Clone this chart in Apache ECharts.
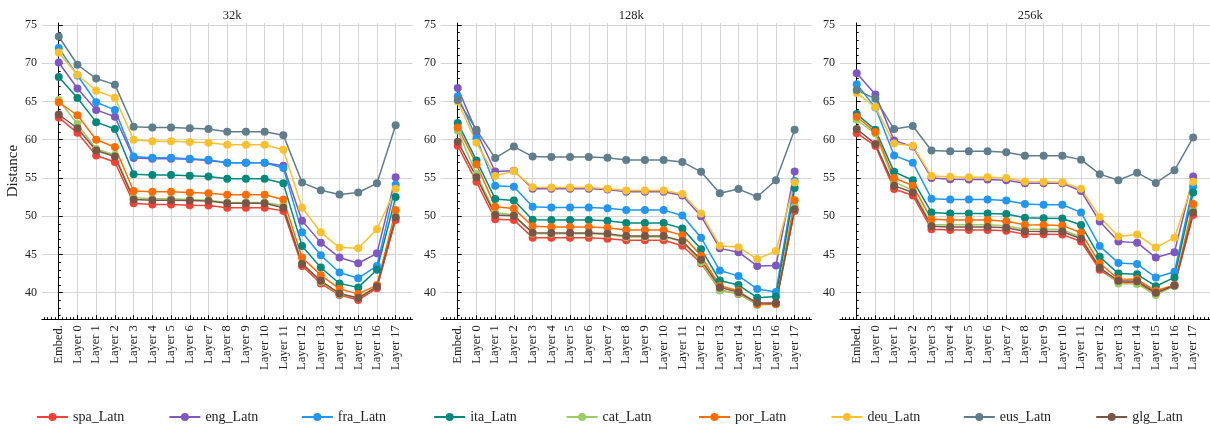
<!DOCTYPE html>
<html>
<head>
<meta charset="utf-8">
<script src="https://cdn.jsdelivr.net/npm/echarts@6/dist/echarts.min.js"></script>
<style>
  html, body { margin: 0; padding: 0; background: #fff; }
  #chart { width: 1210px; height: 430px; }
</style>
</head>
<body>
<div id="chart"></div>
<script>
  const categories = ['Embed.', 'Layer 0', 'Layer 1', 'Layer 2', 'Layer 3', 'Layer 4', 'Layer 5', 'Layer 6',
    'Layer 7', 'Layer 8', 'Layer 9', 'Layer 10', 'Layer 11', 'Layer 12', 'Layer 13', 'Layer 14',
    'Layer 15', 'Layer 16', 'Layer 17'];
  const yTicks = [40, 45, 50, 55, 60, 65, 70, 75];
  const panelTitles = ['32k', '128k', '256k'];
  const languages = ['spa_Latn', 'eng_Latn', 'fra_Latn', 'ita_Latn', 'cat_Latn', 'por_Latn', 'deu_Latn', 'eus_Latn', 'glg_Latn'];

  // 32k
  const spa_32k = [62.9, 60.9, 57.95, 57.1, 51.7, 51.55, 51.55, 51.45, 51.4, 51.1, 51.1, 51.1, 50.7, 43.5, 41.2, 39.7, 39.05, 40.6, 49.5];
  const eng_32k = [70.1, 66.7, 63.9, 63.0, 57.6, 57.5, 57.5, 57.45, 57.3, 57.0, 57.0, 57.0, 56.6, 49.4, 46.55, 44.6, 43.85, 45.15, 55.1];
  const fra_32k = [72.0, 68.4, 64.9, 63.9, 57.8, 57.65, 57.65, 57.5, 57.4, 57.0, 57.0, 57.0, 56.3, 47.9, 44.9, 42.65, 41.9, 43.5, 54.1];
  const ita_32k = [68.2, 65.45, 62.3, 61.4, 55.5, 55.4, 55.4, 55.3, 55.2, 54.9, 54.9, 54.9, 54.3, 46.1, 43.3, 41.2, 40.7, 43.0, 52.5];
  const cat_32k = [65.2, 62.05, 58.8, 58.0, 52.4, 52.3, 52.3, 52.2, 52.1, 51.8, 51.8, 51.8, 51.4, 43.9, 41.45, 39.8, 39.3, 40.9, 50.0];
  const por_32k = [64.9, 63.2, 60.0, 59.05, 53.3, 53.2, 53.2, 53.1, 53.0, 52.8, 52.8, 52.8, 52.2, 44.6, 42.3, 40.5, 39.85, 41.0, 50.8];
  const deu_32k = [71.4, 68.5, 66.4, 65.5, 60.0, 59.8, 59.8, 59.7, 59.6, 59.35, 59.35, 59.35, 58.7, 51.1, 47.9, 45.9, 45.8, 48.3, 53.6];
  const eus_32k = [73.5, 69.8, 68.0, 67.2, 61.7, 61.6, 61.6, 61.5, 61.4, 61.05, 61.05, 61.05, 60.6, 54.4, 53.4, 52.85, 53.1, 54.3, 61.9];
  const glg_32k = [63.3, 61.5, 58.6, 57.8, 52.2, 52.1, 52.1, 52.05, 52.0, 51.7, 51.7, 51.7, 51.1, 43.75, 41.55, 39.9, 39.3, 40.8, 49.85];

  // 128k
  const spa_128k = [59.2, 54.5, 49.6, 49.5, 47.2, 47.2, 47.2, 47.2, 47.05, 46.85, 46.85, 46.85, 46.15, 43.85, 40.35, 39.85, 38.5, 38.6, 50.7];
  const eng_128k = [66.75, 61.05, 55.85, 55.95, 53.6, 53.6, 53.6, 53.6, 53.5, 53.2, 53.2, 53.2, 52.7, 50.0, 45.8, 45.3, 43.5, 43.55, 55.85];
  const fra_128k = [65.7, 60.2, 54.0, 53.85, 51.25, 51.15, 51.15, 51.15, 51.05, 50.8, 50.8, 50.8, 50.1, 47.2, 42.9, 42.2, 40.5, 40.1, 54.6];
  const ita_128k = [62.2, 57.3, 52.25, 52.05, 49.55, 49.5, 49.5, 49.5, 49.4, 49.1, 49.1, 49.1, 48.4, 45.7, 41.6, 41.0, 39.35, 39.5, 53.7];
  const cat_128k = [61.2, 55.5, 50.45, 50.2, 47.75, 47.7, 47.7, 47.7, 47.6, 47.3, 47.3, 47.3, 46.7, 44.0, 40.3, 39.9, 38.4, 38.5, 51.3];
  const por_128k = [61.6, 56.8, 51.25, 51.0, 48.7, 48.6, 48.6, 48.6, 48.5, 48.2, 48.2, 48.2, 47.5, 44.85, 40.9, 40.25, 38.5, 38.5, 52.1];
  const deu_128k = [65.0, 59.6, 55.25, 55.9, 53.8, 53.75, 53.75, 53.75, 53.6, 53.35, 53.35, 53.35, 52.9, 50.35, 46.15, 45.95, 44.4, 45.45, 54.4];
  const eus_128k = [65.2, 61.3, 57.6, 59.1, 57.8, 57.75, 57.75, 57.75, 57.65, 57.35, 57.35, 57.35, 57.1, 55.8, 53.0, 53.55, 52.55, 54.7, 61.3];
  const glg_128k = [59.75, 55.1, 50.15, 50.05, 47.85, 47.8, 47.8, 47.8, 47.7, 47.4, 47.4, 47.4, 46.75, 44.3, 40.7, 40.05, 38.7, 38.65, 50.9];

  // 256k
  const spa_256k = [60.85, 59.2, 53.55, 52.7, 48.3, 48.2, 48.2, 48.2, 48.1, 47.65, 47.65, 47.6, 46.7, 43.0, 41.4, 41.3, 39.9, 40.9, 50.15];
  const eng_256k = [68.7, 65.9, 59.9, 59.1, 55.0, 54.85, 54.8, 54.8, 54.7, 54.3, 54.3, 54.3, 53.3, 49.3, 46.7, 46.55, 44.6, 45.3, 55.2];
  const fra_256k = [67.25, 64.2, 57.95, 57.0, 52.3, 52.2, 52.2, 52.2, 52.05, 51.6, 51.5, 51.5, 50.5, 46.1, 43.9, 43.75, 42.0, 42.75, 53.9];
  const ita_256k = [63.35, 61.3, 55.8, 54.7, 50.5, 50.35, 50.35, 50.35, 50.3, 49.8, 49.75, 49.7, 48.85, 44.7, 42.5, 42.4, 40.85, 42.0, 53.1];
  const cat_256k = [62.6, 60.8, 54.5, 53.4, 48.9, 48.9, 48.9, 48.9, 48.75, 48.3, 48.3, 48.25, 47.3, 43.35, 41.2, 41.15, 39.7, 40.9, 50.9];
  const por_256k = [63.0, 61.0, 55.0, 54.0, 49.6, 49.5, 49.5, 49.5, 49.35, 48.9, 48.85, 48.8, 47.85, 43.85, 41.8, 41.75, 40.25, 41.0, 51.6];
  const deu_256k = [66.1, 64.25, 59.5, 59.2, 55.25, 55.15, 55.1, 55.1, 55.0, 54.55, 54.5, 54.45, 53.6, 49.9, 47.35, 47.6, 45.9, 47.2, 54.5];
  const eus_256k = [66.5, 65.35, 61.4, 61.8, 58.6, 58.5, 58.5, 58.5, 58.35, 57.9, 57.9, 57.9, 57.4, 55.5, 54.7, 55.7, 54.35, 56.0, 60.3];
  const glg_256k = [61.4, 59.45, 54.0, 53.1, 48.7, 48.6, 48.6, 48.6, 48.5, 48.05, 48.0, 48.0, 47.05, 43.25, 41.55, 41.5, 40.0, 40.95, 50.5];

  const panelData = [
    [spa_32k, eng_32k, fra_32k, ita_32k, cat_32k, por_32k, deu_32k, eus_32k, glg_32k],
    [spa_128k, eng_128k, fra_128k, ita_128k, cat_128k, por_128k, deu_128k, eus_128k, glg_128k],
    [spa_256k, eng_256k, fra_256k, ita_256k, cat_256k, por_256k, deu_256k, eus_256k, glg_256k]
  ];

  const colors = ['#F44336', '#7E57C2', '#2196F3', '#00897B', '#9CCC65', '#FF6D00', '#FBC02D', '#607D8B', '#795548'];
  const serif = '"Liberation Serif", "DejaVu Serif", serif';

  const gridLefts = [41.9, 440.9, 839.9];
  const plotW = 370.6, plotTop = 23, plotH = 296.2;
  const xMin = -0.9, xMax = 18.9, yMin = 36.54, yMax = 75.26;

  const catIdx = categories.map((c, i) => i);
  const xMinor = [];
  for (let v = -0.8; v < 18.85; v += 0.2) xMinor.push(+v.toFixed(1));
  const yMinor = [];
  for (let v = 37; v <= 75; v++) if (v % 5 !== 0) yMinor.push(v);

  const option = {
    animation: false,
    color: colors,
    title: [],
    grid: [],
    xAxis: [],
    yAxis: [],
    series: [],
    // one legend per item so the spacing is even, like the original
    legend: languages.map((name, k) => ({
      data: [name],
      left: 31 + k * 132.4,
      top: 405,
      itemWidth: 31,
      itemHeight: 10,
      textStyle: { fontFamily: serif, fontSize: 14, color: '#222' }
    }))
  };

  panelTitles.forEach((t, p) => {
    option.title.push({
      text: t,
      left: gridLefts[p] + plotW / 2,
      top: 4,
      textAlign: 'center',
      textStyle: { fontFamily: serif, fontSize: 12.5, fontWeight: 'normal', color: '#222' }
    });
    option.grid.push({ left: gridLefts[p], top: plotTop, width: plotW, height: plotH });

    // main x axis: categories placed on index positions
    option.xAxis.push({
      type: 'value', gridIndex: p, min: xMin, max: xMax,
      axisLine: { show: true, lineStyle: { color: '#000', width: 1 } },
      axisTick: { show: true, inside: true, length: 4, customValues: catIdx, lineStyle: { color: '#000' } },
      axisLabel: {
        customValues: catIdx, rotate: 90, margin: 6,
        fontFamily: serif, fontSize: 12.5, color: '#222',
        formatter: v => categories[Math.round(v)]
      },
      splitLine: { show: true, lineStyle: { color: '#d4d4d4', width: 1 } }
    });
    // minor ticks along the bottom
    option.xAxis.push({
      type: 'value', gridIndex: p, min: xMin, max: xMax, position: 'bottom',
      axisLine: { show: false },
      axisTick: { show: true, inside: true, length: 2, customValues: xMinor, lineStyle: { color: '#000' } },
      axisLabel: { show: false },
      splitLine: { show: false }
    });

    option.yAxis.push({
      type: 'value', gridIndex: p, min: yMin, max: yMax, position: 'left',
      name: p === 0 ? 'Distance' : '',
      nameLocation: 'middle', nameGap: 19,
      nameTextStyle: { fontFamily: serif, fontSize: 15, color: '#222' },
      axisLine: { show: true, lineStyle: { color: '#000', width: 1 } },
      axisTick: { show: true, inside: true, length: 4, customValues: yTicks, lineStyle: { color: '#000' } },
      axisLabel: { customValues: yTicks, margin: 5, fontFamily: serif, fontSize: 12, color: '#222' },
      splitLine: { show: true, lineStyle: { color: '#d4d4d4', width: 1 } }
    });
    option.yAxis.push({
      type: 'value', gridIndex: p, min: yMin, max: yMax, position: 'left', offset: 0,
      axisLine: { show: false },
      axisTick: { show: true, inside: true, length: 2, customValues: yMinor, lineStyle: { color: '#000' } },
      axisLabel: { show: false },
      splitLine: { show: false }
    });

    panelData[p].forEach((vals, k) => {
      option.series.push({
        name: languages[k],
        type: 'line',
        xAxisIndex: p * 2,
        yAxisIndex: p * 2,
        data: vals.map((v, i) => [i, v]),
        symbol: 'circle',
        symbolSize: 8,
        lineStyle: { width: 1.5, color: colors[k] },
        itemStyle: { color: colors[k] }
      });
    });
  });

  const chart = echarts.init(document.getElementById('chart'));
  chart.setOption(option);
</script>
</body>
</html>
